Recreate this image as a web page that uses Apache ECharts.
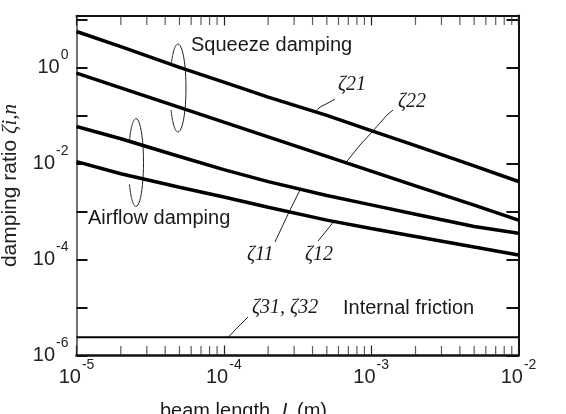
<!DOCTYPE html>
<html><head><meta charset="utf-8">
<script src="https://cdn.jsdelivr.net/npm/echarts@6/dist/echarts.min.js"></script>
<style>html,body{margin:0;padding:0;background:#fff}#c{width:566px;height:414px}</style>
</head><body><div id="c"></div>
<script>
// ---- data ----
const beamLength = [1e-5, 2e-5, 5e-5, 1e-4, 2e-4, 5e-4, 1e-3, 2e-3, 5e-3, 1e-2];
const zeta21 = [5.57, 2.7, 1.0, 0.49, 0.24, 0.10, 0.048, 0.0234, 0.0089, 0.0042];
const zeta22 = [0.76, 0.374, 0.147, 0.072, 0.0357, 0.014, 0.0069, 0.0034, 0.00135, 0.00066];
const zeta11 = [0.0585, 0.0326, 0.0139, 0.00743, 0.00417, 0.00214, 0.00137, 0.000875, 0.000484, 0.000351];
const zeta12 = [0.0109, 0.00608, 0.00318, 0.0020, 0.00122, 0.000658, 0.000442, 0.000301, 0.000181, 0.000124];
const frictionLength = [1e-5, 1e-2];
const zeta3x = [2.4e-6, 2.4e-6];
const xMinorTicks = [2e-5,3e-5,4e-5,5e-5,6e-5,7e-5,8e-5,9e-5,
                     2e-4,3e-4,4e-4,5e-4,6e-4,7e-4,8e-4,9e-4,
                     2e-3,3e-3,4e-3,5e-3,6e-3,7e-3,8e-3,9e-3];
const xRange = [1e-5, 1e-2];
const yRange = [1e-6, 12];
const yLabelExponents = [0, -2, -4, -6];
// leader anchor points on the curves [L, zeta]
const leaderAnchors = {
  z21: [4.28e-4, 0.126], z22: [6.82e-4, 0.0109], z11: [3.29e-4, 2.8e-3],
  z12: [5.69e-4, 6.65e-4], z3: [1.07e-4, 2.4e-6]
};

const SANS = '"Liberation Sans", Arial, Helvetica, sans-serif';
const SERIF = '"Liberation Serif", "Times New Roman", serif';

function zip(a, b) { return a.map((v, i) => [v, b[i]]); }
function powLabel(v, allowed) {
  const e = Math.round(Math.log10(v));
  if (Math.abs(Math.log10(v) - e) > 1e-6) return '';
  if (allowed && allowed.indexOf(e) < 0) return '';
  return '{b|10}{e|' + e + '}';
}
const richX = {
  b: { fontSize: 20, fontFamily: SANS, color: '#222' },
  e: { fontSize: 14, fontFamily: SANS, color: '#222', padding: [0, 0, 24, 1] }
};
const richY = {
  b: { fontSize: 20, fontFamily: SANS, color: '#222' },
  e: { fontSize: 14, fontFamily: SANS, color: '#222', padding: [0, 0, 24, 1] }
};

const chart = echarts.init(document.getElementById('c'), null, { renderer: 'canvas' });
const lineSeries = (data, w) => ({
  type: 'line', data: data, showSymbol: false, symbol: 'none', silent: true,
  lineStyle: { color: '#000', width: w }, animation: false
});
const tickSeries = (yVal, offset) => ({
  type: 'scatter', silent: true, clip: false, animation: false,
  data: xMinorTicks.map(v => [v, yVal]),
  symbol: 'rect', symbolSize: [1.2, 9], symbolOffset: [0, offset],
  itemStyle: { color: '#333' }
});

chart.setOption({
  animation: false,
  grid: { left: 76.5, right: 47.5, top: 15.5, bottom: 58.5, containLabel: false, outerBoundsMode: 'none' },
  xAxis: [{
    type: 'log', logBase: 10, min: xRange[0], max: xRange[1], position: 'bottom',
    axisLine: { show: true, lineStyle: { color: '#111', width: 2.5 } },
    axisTick: { show: true, inside: true, length: 10, lineStyle: { color: '#222', width: 1.2 } },
    minorTick: { show: false }, splitLine: { show: false },
    axisLabel: { margin: 3, formatter: v => powLabel(v), rich: richX }
  }, {
    type: 'log', logBase: 10, min: xRange[0], max: xRange[1], position: 'top',
    axisLine: { show: true, lineStyle: { color: '#111', width: 2 } },
    axisTick: { show: true, inside: true, length: 10, lineStyle: { color: '#222', width: 1.2 } },
    splitLine: { show: false }, axisLabel: { show: false }
  }],
  yAxis: [{
    type: 'log', logBase: 10, min: yRange[0], max: yRange[1], position: 'left',
    axisLine: { show: true, lineStyle: { color: '#444', width: 1.5 } },
    axisTick: { show: true, inside: true, length: 11, lineStyle: { color: '#111', width: 2 } },
    splitLine: { show: false },
    axisLabel: { margin: 8, formatter: v => powLabel(v, yLabelExponents), rich: richY, showMaxLabel: false },
    name: '{t|damping ratio }{z|ζi,n}', nameLocation: 'middle', nameGap: 56, nameRotate: 90,
    nameMoveOverlap: false,
    nameTextStyle: { rich: {
      t: { fontSize: 21, fontFamily: SANS, color: '#222' },
      z: { fontSize: 21, fontFamily: SERIF, fontStyle: 'italic', color: '#222' }
    } }
  }, {
    type: 'log', logBase: 10, min: yRange[0], max: yRange[1], position: 'right',
    axisLine: { show: true, lineStyle: { color: '#111', width: 2 } },
    axisTick: { show: true, inside: true, length: 12, lineStyle: { color: '#111', width: 2 } },
    splitLine: { show: false }, axisLabel: { show: false }
  }],
  series: [
    lineSeries(zip(beamLength, zeta21), 3.5),
    lineSeries(zip(beamLength, zeta22), 3.5),
    lineSeries(zip(beamLength, zeta11), 3.5),
    lineSeries(zip(beamLength, zeta12), 3.5),
    lineSeries(zip(frictionLength, zeta3x), 2.2),
    tickSeries(yRange[0], -5),
    tickSeries(yRange[1], 5)
  ]
});

// ---- annotations ----
function px(p) { return chart.convertToPixel({ xAxisIndex: 0, yAxisIndex: 0 }, p); }
function ellipse(cx, cy, rx, ry, a0, a1) {
  const pts = [];
  for (let i = 0; i <= 24; i++) {
    const a = (a0 + (a1 - a0) * i / 24) * Math.PI / 180;
    pts.push([cx + rx * Math.cos(a), cy + ry * Math.sin(a)]);
  }
  return pts;
}
const thin = { stroke: '#222', lineWidth: 1, fill: null };
function poly(points) { return { type: 'polyline', shape: { points: points }, style: thin, silent: true }; }
function txt(x, y, text, font, italic) {
  return { type: 'text', x: x, y: y, silent: true,
    style: { text: text, fill: '#1a1a1a', font: (italic ? 'italic ' : '') + font, verticalAlign: 'middle', align: 'left' } };
}
const sansFont = '20px ' + SANS;
const serifFont = '20px ' + SERIF;
const a21 = px(leaderAnchors.z21), a22 = px(leaderAnchors.z22), a11 = px(leaderAnchors.z11),
      a12 = px(leaderAnchors.z12), a3 = px(leaderAnchors.z3);
chart.setOption({ graphic: [
  txt(191, 45, 'Squeeze damping', sansFont),
  txt(88, 218, 'Airflow damping', sansFont),
  txt(343, 308, 'Internal friction', sansFont),
  txt(252, 308, 'ζ31, ζ32', serifFont, true),
  txt(338, 85, 'ζ21', serifFont, true),
  txt(398, 102, 'ζ22', serifFont, true),
  txt(247, 255, 'ζ11', serifFont, true),
  txt(305, 255, 'ζ12', serifFont, true),
  poly([[335, 99], [328, 103], [320, 107], a21]),
  poly([[393, 110], [387, 115], [372, 132], [360, 145], a22]),
  poly([[275, 242], [282, 227], [290, 210], a11]),
  poly([[318, 241], [327, 230], a12]),
  poly([[248, 317], [240, 325], a3]),
  poly(ellipse(178, 88, 8, 44, -90, 90)),
  poly(ellipse(178, 88, 8, 44, -90, -150)),
  poly(ellipse(178, 88, 8, 44, 90, 150)),
  poly(ellipse(136, 162.5, 7.5, 44, -90, 90)),
  poly(ellipse(136, 162.5, 7.5, 44, -90, -150)),
  poly(ellipse(136, 162.5, 7.5, 44, 90, 150)),
  txt(160, 411, 'beam length', sansFont),
  txt(282, 411, 'L', sansFont, true),
  txt(297, 411, '(m)', sansFont)
] });
</script>
</body></html>
